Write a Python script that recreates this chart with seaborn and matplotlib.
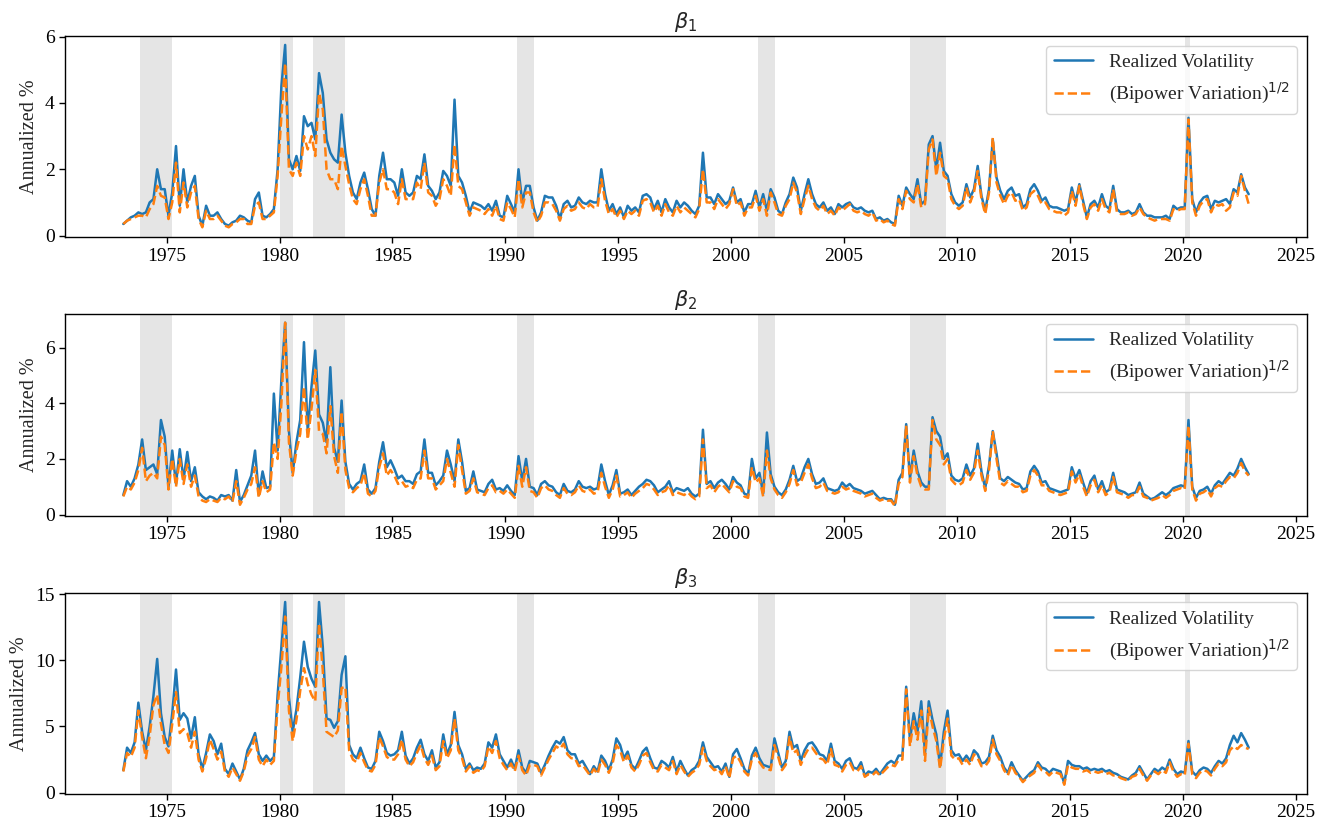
import numpy as np
import pandas as pd
import matplotlib
matplotlib.use("Agg")
import matplotlib.pyplot as plt
from matplotlib.ticker import MultipleLocator
import seaborn as sns

sns.set_style("ticks")
plt.rcParams["font.family"] = ["Liberation Serif", "DejaVu Serif"]
plt.rcParams["mathtext.fontset"] = "dejavusans"
plt.rcParams["font.size"] = 13.5
plt.rcParams["axes.edgecolor"] = "black"
plt.rcParams["xtick.color"] = "black"
plt.rcParams["ytick.color"] = "black"

# ---- data: bimonthly observations, 6 per year, 1973-2022 ----
years = list(range(1973, 2023))
periods_per_year = 6

titles = [r"$\beta_1$", r"$\beta_2$", r"$\beta_3$"]
series_labels = ["Realized Volatility", r"(Bipower Variation)$^{1/2}$"]
ylabel = "Annualized %"
xticks = [1975, 1980, 1985, 1990, 1995, 2000, 2005, 2010, 2015, 2020, 2025]

recessions = [(1973.83, 1975.25), (1980.0, 1980.58), (1981.5, 1982.92),
              (1990.5, 1991.25), (2001.17, 2001.92), (2007.92, 2009.5),
              (2020.08, 2020.33)]

rv1 = [
    0.35, 0.45, 0.55, 0.6, 0.7, 0.65,
    0.7, 1.0, 1.1, 2.0, 1.4, 1.4,
    0.6, 1.3, 2.7, 0.9, 2.0, 1.0,
    1.5, 1.8, 0.6, 0.3, 0.9, 0.6,
    0.6, 0.7, 0.5, 0.35, 0.3, 0.4,
    0.45, 0.6, 0.55, 0.45, 0.4, 1.1,
    1.3, 0.6, 0.55, 0.65, 0.8, 2.0,
    4.5, 5.75, 2.3, 2.0, 2.4, 1.95,
    3.6, 3.3, 3.4, 2.9, 4.9, 4.3,
    2.9, 2.5, 2.3, 2.2, 3.65, 2.5,
    1.8, 1.3, 1.1, 1.6, 1.9, 1.4,
    0.8, 0.6, 1.8, 2.5, 1.7, 1.7,
    1.6, 1.2, 2.0, 1.3, 1.2, 1.3,
    1.8, 1.7, 2.45, 1.5, 1.35, 1.1,
    1.3, 1.95, 1.8, 1.5, 4.1, 1.8,
    1.6, 1.2, 0.7, 1.0, 0.95, 0.9,
    0.8, 0.95, 0.75, 1.05, 0.6, 0.55,
    1.2, 0.95, 0.7, 2.0, 1.0, 1.5,
    1.5, 0.85, 0.45, 0.7, 1.2, 1.15,
    1.15, 0.9, 0.5, 0.95, 1.05, 0.85,
    0.9, 1.15, 1.0, 0.95, 1.05, 1.0,
    1.0, 2.0, 1.25, 0.75, 0.95, 0.65,
    0.85, 0.55, 0.9, 0.75, 0.85, 0.7,
    1.2, 1.25, 1.15, 0.8, 1.05, 0.7,
    1.1, 0.85, 0.7, 1.05, 0.85, 1.0,
    0.9, 0.75, 0.65, 0.9, 2.5, 1.15,
    1.15, 0.95, 1.25, 1.1, 0.95, 1.05,
    1.45, 1.0, 1.1, 0.7, 0.95, 0.95,
    1.35, 0.85, 1.25, 0.75, 1.4, 1.15,
    0.75, 0.65, 1.0, 1.25, 1.75, 1.45,
    0.75, 1.25, 1.7, 1.25, 0.95, 0.85,
    1.0, 0.75, 0.85, 0.65, 0.95, 0.85,
    0.95, 1.0, 0.85, 0.8, 0.85, 0.75,
    0.7, 0.75, 0.5, 0.55, 0.45, 0.5,
    0.4, 0.35, 1.2, 0.9, 1.45, 1.25,
    1.1, 1.7, 0.95, 1.05, 2.75, 3.0,
    2.0, 2.8, 1.95, 1.8, 1.25, 1.0,
    0.9, 1.0, 1.55, 1.15, 1.4, 2.1,
    1.2, 0.75, 1.4, 2.9, 1.75, 1.35,
    1.1, 1.35, 1.45, 1.2, 1.25, 0.85,
    0.95, 1.4, 1.55, 1.35, 1.05, 1.15,
    0.9, 0.85, 0.85, 0.8, 0.75, 0.8,
    1.45, 1.0, 1.55, 1.05, 0.55, 0.95,
    1.05, 0.85, 1.25, 0.9, 0.8, 1.5,
    0.8, 0.7, 0.7, 0.75, 0.65, 0.7,
    0.95, 0.7, 0.6, 0.6, 0.55, 0.55,
    0.55, 0.6, 0.5, 0.9, 0.8, 0.85,
    0.85, 3.55, 1.1, 0.7, 1.0, 1.15,
    1.2, 0.8, 1.05, 1.0, 1.05, 1.1,
    0.95, 1.4, 1.3, 1.85, 1.45, 1.25,
]
bv1 = [
    0.35, 0.45, 0.5, 0.55, 0.6, 0.6,
    0.55, 0.8, 0.95, 1.5, 1.2, 1.15,
    0.5, 1.0, 2.2, 0.7, 1.6, 0.85,
    1.3, 1.5, 0.5, 0.25, 0.75, 0.5,
    0.5, 0.6, 0.45, 0.3, 0.25, 0.35,
    0.4, 0.5, 0.5, 0.35, 0.35, 0.9,
    1.0, 0.5, 0.5, 0.6, 0.7, 1.8,
    3.6, 5.2, 2.0, 1.8, 2.2, 1.8,
    3.0, 2.6, 3.0, 2.4, 4.3, 3.8,
    2.0, 1.7, 1.7, 1.4, 2.7, 2.1,
    1.55, 1.1, 0.95, 1.4, 1.7, 1.2,
    0.6, 0.6, 1.6, 2.0, 1.4, 1.4,
    1.3, 0.95, 1.7, 1.1, 1.1, 1.1,
    1.6, 1.4, 2.2, 1.3, 1.2, 0.9,
    1.1, 1.7, 1.5, 1.2, 2.75, 1.5,
    1.4, 1.0, 0.6, 0.85, 0.8, 0.75,
    0.65, 0.8, 0.6, 0.9, 0.5, 0.45,
    1.0, 0.8, 0.55, 1.7, 0.85, 1.3,
    1.3, 0.7, 0.4, 0.6, 1.0, 1.0,
    0.95, 0.75, 0.45, 0.8, 0.9, 0.75,
    0.8, 1.0, 0.85, 0.8, 0.95, 0.85,
    0.85, 1.7, 1.05, 0.65, 0.8, 0.55,
    0.75, 0.5, 0.75, 0.65, 0.75, 0.6,
    1.05, 1.1, 1.0, 0.7, 0.9, 0.6,
    0.95, 0.7, 0.6, 0.9, 0.7, 0.85,
    0.75, 0.65, 0.55, 0.8, 2.0, 1.0,
    1.0, 0.8, 1.1, 0.95, 0.8, 0.95,
    1.4, 0.9, 1.0, 0.6, 0.85, 0.85,
    1.2, 0.75, 1.1, 0.6, 1.3, 1.0,
    0.65, 0.6, 0.9, 1.1, 1.6, 1.3,
    0.65, 1.1, 1.5, 1.1, 0.85, 0.75,
    0.9, 0.65, 0.75, 0.6, 0.85, 0.75,
    0.85, 0.95, 0.75, 0.7, 0.75, 0.65,
    0.6, 0.7, 0.45, 0.5, 0.4, 0.45,
    0.35, 0.3, 1.1, 0.8, 1.35, 1.1,
    1.0, 1.55, 0.85, 0.95, 2.6, 2.9,
    1.8, 2.5, 1.8, 1.7, 1.1, 0.9,
    0.8, 0.9, 1.45, 1.0, 1.3, 1.95,
    1.1, 0.65, 1.3, 2.95, 1.6, 1.2,
    0.95, 1.2, 1.3, 1.05, 1.1, 0.75,
    0.85, 1.25, 1.35, 1.2, 0.95, 1.0,
    0.8, 0.75, 0.7, 0.7, 0.6, 0.7,
    1.35, 0.9, 1.5, 0.95, 0.5, 0.85,
    0.95, 0.75, 1.1, 0.8, 0.7, 1.4,
    0.7, 0.65, 0.65, 0.7, 0.6, 0.65,
    0.85, 0.65, 0.55, 0.5, 0.45, 0.5,
    0.5, 0.5, 0.45, 0.8, 0.75, 0.8,
    0.8, 3.5, 1.0, 0.6, 0.9, 1.05,
    1.1, 0.7, 0.95, 0.9, 0.95, 0.75,
    0.85, 1.3, 1.2, 1.8, 1.35, 0.95,
]

rv2 = [
    0.7, 1.2, 1.0, 1.3, 1.8, 2.7,
    1.6, 1.7, 1.8, 1.45, 3.4, 2.8,
    1.0, 2.3, 1.1, 2.35, 1.25, 2.25,
    1.2, 1.7, 0.8, 0.65, 0.55, 0.65,
    0.6, 0.5, 0.7, 0.65, 0.7, 0.5,
    1.6, 0.45, 0.7, 1.05, 1.4, 2.3,
    0.7, 1.55, 0.95, 1.0, 4.35, 2.3,
    4.85, 6.9, 3.0, 1.5, 2.6, 3.4,
    6.2, 3.0, 4.6, 5.9, 3.6, 3.3,
    2.6, 5.3, 2.4, 1.9, 4.1, 1.9,
    1.1, 0.9, 1.1, 1.2, 1.8, 0.9,
    0.75, 0.95, 1.9, 2.6, 1.7, 1.95,
    1.65, 1.3, 1.4, 1.2, 1.2, 1.1,
    1.45, 1.55, 2.7, 1.5, 1.5, 1.05,
    1.2, 1.4, 2.3, 1.8, 1.2, 2.7,
    1.9, 0.85, 0.95, 1.55, 0.9, 0.85,
    0.8, 1.1, 1.25, 0.9, 0.95, 0.85,
    1.05, 0.85, 0.7, 2.1, 1.2, 2.0,
    1.0, 0.95, 0.7, 1.1, 1.2, 1.05,
    1.0, 0.8, 0.7, 1.1, 0.85, 0.8,
    0.9, 1.2, 1.0, 0.95, 1.0, 0.9,
    0.95, 1.8, 1.2, 0.7, 1.05, 1.6,
    0.75, 0.8, 0.9, 0.7, 0.85, 1.0,
    1.1, 1.25, 1.2, 1.05, 0.8, 0.9,
    1.0, 1.2, 0.8, 0.95, 0.9, 0.85,
    0.95, 0.75, 0.65, 0.75, 3.05, 1.1,
    1.2, 0.95, 1.15, 1.25, 1.1, 0.9,
    1.35, 1.15, 1.05, 0.75, 0.7, 2.0,
    1.3, 1.5, 0.75, 2.95, 1.45, 1.0,
    0.8, 0.7, 0.9, 1.25, 1.75, 1.2,
    1.3, 1.7, 2.0, 1.45, 1.1, 1.15,
    1.3, 0.95, 0.9, 0.85, 0.9, 1.15,
    1.0, 1.1, 0.95, 0.9, 0.85, 0.75,
    0.8, 0.85, 0.7, 0.55, 0.6, 0.55,
    0.55, 0.35, 1.25, 1.5, 3.25, 1.3,
    2.3, 1.55, 1.15, 1.0, 1.0, 3.5,
    3.0, 2.8, 2.0, 2.2, 1.4, 1.25,
    1.2, 1.3, 1.8, 1.4, 1.65, 2.55,
    1.55, 0.95, 1.75, 3.0, 2.2, 1.3,
    1.2, 1.35, 1.25, 1.15, 1.1, 0.9,
    0.95, 1.55, 1.75, 1.55, 1.15, 1.2,
    0.95, 0.9, 0.85, 0.8, 0.85, 0.9,
    1.7, 1.3, 1.6, 1.15, 0.75, 1.2,
    1.4, 0.9, 1.2, 0.8, 0.9, 1.5,
    0.9, 0.85, 0.8, 0.7, 0.75, 0.8,
    1.15, 0.75, 0.65, 0.55, 0.6, 0.7,
    0.8, 0.7, 0.8, 0.95, 1.0, 1.05,
    1.0, 3.4, 1.0, 0.6, 0.85, 0.9,
    1.0, 0.75, 1.05, 1.2, 1.1, 1.3,
    1.5, 1.4, 1.65, 2.0, 1.7, 1.45,
]
bv2 = [
    0.65, 1.0, 0.9, 1.15, 1.6, 2.4,
    1.2, 1.4, 1.5, 1.3, 2.8, 2.5,
    0.9, 2.0, 1.0, 2.0, 1.1, 1.8,
    1.0, 1.4, 0.65, 0.5, 0.45, 0.55,
    0.5, 0.45, 0.6, 0.55, 0.65, 0.45,
    1.2, 0.35, 0.6, 0.9, 1.1, 1.7,
    0.6, 1.2, 0.8, 0.9, 2.6, 2.0,
    4.0, 6.9, 2.6, 1.4, 2.3, 2.9,
    4.6, 2.7, 3.8, 5.2, 3.0, 2.9,
    2.2, 3.9, 2.1, 1.5, 3.7, 1.6,
    0.95, 0.8, 0.95, 1.05, 1.5, 0.75,
    0.65, 0.85, 1.7, 2.2, 1.4, 1.6,
    1.4, 1.1, 1.2, 1.0, 1.05, 0.95,
    1.25, 1.3, 2.3, 1.3, 1.3, 0.9,
    1.05, 1.2, 2.0, 1.5, 1.0, 2.5,
    1.6, 0.75, 0.85, 1.3, 0.8, 0.75,
    0.7, 0.95, 1.05, 0.8, 0.85, 0.75,
    0.9, 0.75, 0.6, 1.75, 1.0, 1.7,
    0.85, 0.8, 0.6, 0.95, 1.05, 0.9,
    0.85, 0.7, 0.6, 0.95, 0.75, 0.7,
    0.8, 1.05, 0.85, 0.8, 0.9, 0.75,
    0.8, 1.5, 1.0, 0.6, 0.9, 1.4,
    0.65, 0.7, 0.8, 0.6, 0.75, 0.85,
    0.95, 1.1, 1.05, 0.9, 0.7, 0.8,
    0.85, 1.05, 0.7, 0.8, 0.75, 0.7,
    0.8, 0.65, 0.55, 0.65, 2.7, 0.95,
    1.05, 0.8, 1.0, 1.1, 0.95, 0.8,
    1.2, 1.0, 0.95, 0.65, 0.6, 1.7,
    1.15, 1.3, 0.65, 2.3, 1.3, 0.9,
    0.7, 0.6, 0.8, 1.1, 1.6, 1.05,
    1.15, 1.5, 1.8, 1.3, 0.95, 1.0,
    1.15, 0.85, 0.8, 0.75, 0.8, 1.0,
    0.9, 0.95, 0.85, 0.8, 0.75, 0.65,
    0.7, 0.75, 0.6, 0.5, 0.55, 0.5,
    0.5, 0.3, 1.1, 1.35, 3.2, 1.15,
    2.1, 1.4, 1.0, 0.9, 0.9, 3.4,
    2.7, 2.5, 1.8, 2.0, 1.25, 1.1,
    1.05, 1.15, 1.6, 1.25, 1.5, 2.3,
    1.4, 0.85, 1.6, 3.0, 2.0, 1.15,
    1.05, 1.2, 1.1, 1.0, 1.0, 0.8,
    0.85, 1.4, 1.6, 1.4, 1.05, 1.05,
    0.85, 0.8, 0.75, 0.7, 0.75, 0.8,
    1.55, 1.15, 1.45, 1.0, 0.65, 1.05,
    1.25, 0.8, 1.05, 0.7, 0.8, 1.35,
    0.8, 0.75, 0.7, 0.6, 0.7, 0.7,
    1.0, 0.65, 0.6, 0.5, 0.55, 0.6,
    0.7, 0.6, 0.7, 0.85, 0.9, 0.95,
    0.9, 3.2, 0.9, 0.5, 0.75, 0.8,
    0.9, 0.65, 0.95, 1.05, 1.0, 1.2,
    1.35, 1.3, 1.5, 1.85, 1.55, 1.4,
]

rv3 = [
    1.7, 3.4, 3.0, 3.8, 6.8, 4.6,
    3.2, 5.0, 7.3, 10.1, 6.0, 4.2,
    3.5, 6.0, 9.3, 5.5, 6.0, 5.6,
    4.1, 5.7, 2.9, 1.8, 3.0, 4.4,
    3.9, 2.9, 3.7, 1.8, 1.4, 2.2,
    1.6, 1.0, 1.8, 3.2, 3.8, 4.5,
    2.9, 2.4, 2.8, 2.4, 2.7, 7.4,
    11.0, 14.4, 7.2, 4.6, 6.3, 8.7,
    11.4, 9.5, 8.6, 8.0, 14.4, 11.0,
    5.6, 5.5, 4.9, 5.4, 8.9, 10.3,
    3.6, 2.9, 2.6, 3.4, 2.6, 1.9,
    1.8, 2.4, 4.6, 3.9, 3.0, 2.8,
    2.9, 3.2, 4.6, 2.8, 2.2, 2.6,
    3.4, 4.0, 2.9, 2.4, 3.2, 1.9,
    2.3, 4.4, 2.9, 3.6, 6.1, 3.6,
    2.9, 1.8, 2.2, 1.7, 1.9, 1.8,
    2.2, 3.8, 3.4, 4.4, 2.9, 2.4,
    1.9, 2.5, 1.8, 3.2, 1.9, 1.5,
    2.4, 2.3, 2.2, 1.5, 2.1, 2.8,
    3.4, 3.9, 3.7, 4.2, 3.2, 2.9,
    2.9, 2.2, 2.4, 1.9, 1.4, 2.0,
    1.6, 2.8, 2.4, 1.7, 2.5, 4.1,
    3.6, 2.6, 3.1, 2.1, 1.8, 2.4,
    3.1, 3.4, 2.6, 1.9, 1.8, 2.4,
    2.2, 1.9, 2.7, 1.6, 2.4, 1.8,
    1.3, 1.7, 1.9, 2.4, 3.8, 2.7,
    2.3, 1.9, 2.0, 1.6, 2.2, 1.2,
    2.9, 3.3, 2.6, 1.8, 1.4, 2.8,
    3.4, 2.6, 2.1, 2.0, 1.9, 4.1,
    3.0, 1.9, 2.4, 4.6, 3.4, 3.6,
    2.4, 3.2, 3.7, 3.8, 3.4, 2.9,
    2.8, 2.4, 3.7, 2.4, 2.2, 1.8,
    2.4, 2.6, 1.9, 1.8, 2.3, 1.3,
    1.6, 1.5, 1.8, 1.4, 1.8, 2.2,
    2.4, 2.2, 2.8, 2.8, 8.0, 4.0,
    6.0, 4.6, 6.9, 3.0, 6.9, 5.5,
    4.4, 2.0, 4.6, 6.2, 3.2, 2.8,
    2.9, 2.4, 2.8, 2.4, 3.2, 2.9,
    2.2, 2.3, 2.7, 4.3, 3.2, 2.7,
    1.9, 1.5, 2.3, 1.7, 1.3, 0.9,
    1.2, 1.5, 1.7, 2.3, 1.9, 1.8,
    1.5, 1.8, 1.7, 1.6, 0.7, 2.4,
    2.1, 2.0, 2.0, 1.8, 1.9, 1.7,
    1.8, 1.7, 1.8, 1.6, 1.7, 1.5,
    1.4, 1.2, 1.1, 1.0, 1.3, 1.5,
    2.0, 1.5, 1.0, 1.4, 1.8, 1.6,
    1.9, 1.7, 2.5, 1.8, 1.4, 1.6,
    1.5, 3.9, 1.6, 1.3, 1.7, 1.9,
    1.8, 1.5, 2.0, 2.4, 2.2, 2.6,
    3.6, 4.3, 3.8, 4.5, 4.0, 3.4,
]
bv3 = [
    1.6, 3.0, 2.7, 3.4, 6.2, 4.2,
    2.6, 4.3, 6.6, 7.4, 5.2, 3.6,
    3.0, 5.2, 7.6, 4.5, 4.8, 4.5,
    3.4, 4.6, 2.5, 1.6, 2.6, 4.0,
    3.3, 2.5, 3.1, 1.6, 1.2, 1.9,
    1.4, 0.9, 1.6, 2.8, 3.3, 4.2,
    2.5, 2.0, 2.5, 2.1, 2.4, 6.5,
    9.5, 13.3, 6.2, 3.9, 5.5, 7.7,
    9.4, 8.2, 7.4, 6.9, 12.8, 9.2,
    4.6, 4.4, 4.2, 4.7, 7.9, 8.0,
    3.2, 2.5, 2.3, 3.0, 2.3, 1.7,
    1.6, 2.1, 4.2, 3.5, 2.7, 2.5,
    2.5, 2.9, 4.0, 2.5, 2.0, 2.3,
    3.0, 3.6, 2.6, 2.1, 2.8, 1.7,
    2.0, 3.9, 2.6, 3.2, 5.6, 3.2,
    2.6, 1.6, 2.0, 1.5, 1.7, 1.6,
    2.0, 3.5, 3.0, 3.9, 2.6, 2.1,
    1.7, 2.2, 1.6, 2.8, 1.7, 1.3,
    2.1, 2.1, 2.0, 1.3, 1.9, 2.5,
    3.0, 3.5, 3.3, 3.7, 2.9, 2.6,
    2.6, 2.0, 2.1, 1.7, 1.3, 1.8,
    1.4, 2.5, 2.1, 1.5, 2.2, 3.6,
    3.2, 2.3, 2.8, 1.9, 1.6, 2.1,
    2.8, 3.0, 2.3, 1.7, 1.6, 2.1,
    1.9, 1.7, 2.4, 1.4, 2.1, 1.6,
    1.2, 1.5, 1.7, 2.1, 3.4, 2.4,
    2.0, 1.7, 1.8, 1.4, 2.0, 1.1,
    2.6, 2.8, 2.3, 1.6, 1.3, 2.5,
    3.0, 2.3, 1.9, 1.8, 1.7, 3.6,
    2.7, 1.7, 2.1, 4.2, 3.0, 3.2,
    2.1, 2.8, 3.3, 3.4, 3.0, 2.6,
    2.5, 2.1, 3.3, 2.1, 2.0, 1.6,
    2.1, 2.3, 1.7, 1.6, 2.0, 1.2,
    1.4, 1.3, 1.6, 1.3, 1.6, 1.9,
    2.1, 2.0, 2.5, 2.5, 7.8, 3.5,
    5.4, 4.0, 6.2, 2.4, 6.4, 5.0,
    3.9, 1.8, 4.0, 5.6, 2.8, 2.5,
    2.6, 2.1, 2.5, 2.1, 2.9, 2.6,
    2.0, 2.0, 2.4, 4.0, 2.9, 2.4,
    1.7, 1.3, 2.1, 1.5, 1.2, 0.8,
    1.1, 1.3, 1.5, 2.1, 1.7, 1.6,
    1.3, 1.6, 1.5, 1.4, 0.6, 2.1,
    1.9, 1.8, 1.8, 1.6, 1.7, 1.5,
    1.6, 1.5, 1.6, 1.4, 1.5, 1.3,
    1.3, 1.1, 1.0, 0.9, 1.2, 1.3,
    1.8, 1.3, 0.9, 1.3, 1.6, 1.4,
    1.7, 1.5, 2.3, 1.6, 1.2, 1.4,
    1.3, 3.7, 1.4, 1.1, 1.5, 1.7,
    1.6, 1.3, 1.8, 2.2, 2.0, 2.3,
    3.2, 3.5, 3.3, 3.6, 3.4, 3.3,
]

# ---- build the time index (decimal years at mid-period) ----
t = np.array([y + (k + 0.5) / periods_per_year for y in years for k in range(periods_per_year)])

panels = [(rv1, bv1), (rv2, bv2), (rv3, bv3)]
ylims = [(-0.05, 6.02), (-0.04, 7.2), (-0.1, 15.1)]
ysteps = [2, 2, 5]

fig, axes = plt.subplots(3, 1, figsize=(13.26, 8.27), dpi=100)
fig.subplots_adjust(left=0.049, right=0.9857, top=0.9565, bottom=0.0399, hspace=0.383)

for ax, (rv, bv), title, ylim, ystep in zip(axes, panels, titles, ylims, ysteps):
    df = pd.DataFrame({"t": t, "rv": rv, "bv": bv})
    for a, b in recessions:
        ax.axvspan(a, b, color="gray", alpha=0.2, lw=0, zorder=0)
    sns.lineplot(data=df, x="t", y="rv", ax=ax, color="#1f77b4", linewidth=1.8,
                 label=series_labels[0], sort=True, estimator=None)
    sns.lineplot(data=df, x="t", y="bv", ax=ax, color="#ff7f0e", linewidth=1.8,
                 linestyle="--", label=series_labels[1], sort=True, estimator=None)
    ax.set_xlim(1970.5, 2025.5)
    ax.set_ylim(*ylim)
    ax.set_xticks(xticks)
    ax.set_xticklabels([str(x) for x in xticks])
    ax.yaxis.set_major_locator(MultipleLocator(ystep))
    ax.set_title(title, fontsize=15)
    ax.set_xlabel("")
    ax.set_ylabel(ylabel, fontsize=14.5)
    ax.tick_params(direction="out", length=4, width=1, labelsize=14)
    for s in ax.spines.values():
        s.set_visible(True)
        s.set_linewidth(1.0)
        s.set_color("black")
    ax.legend(loc="upper right", frameon=True, fancybox=True, framealpha=0.8,
              edgecolor="#cccccc", fontsize=14, handlelength=2.0)

fig.savefig("out.png", dpi=100)
